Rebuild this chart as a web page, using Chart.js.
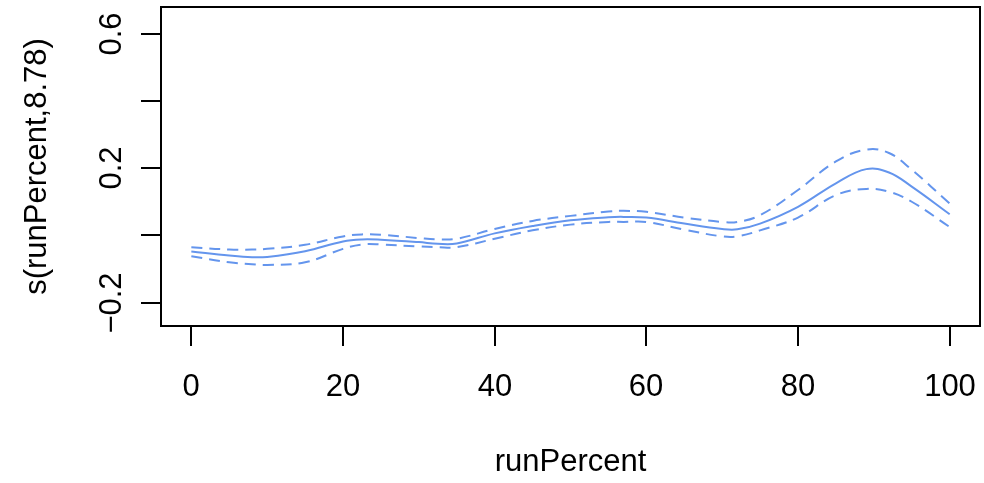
<!DOCTYPE html>
<html>
<head>
<meta charset="utf-8">
<title>s(runPercent,8.78)</title>
<script src="https://cdn.jsdelivr.net/npm/chart.js@4/dist/chart.umd.min.js"></script>
<style>
    body { margin: 0; background: #ffffff; }
    #wrap { width: 984px; height: 483px; }
</style>
</head>
<body>
<div id="wrap"><canvas id="smoothChart" width="984" height="483"></canvas></div>
<script>
// values
const runPercent = [0, 5, 8, 10, 15, 20, 22.5, 25, 30, 32.5, 35, 40, 45, 50, 55, 57, 60, 65, 70, 72, 75, 80, 85, 89, 92, 95, 100];
const fitValues = [-0.048, -0.060, -0.065, -0.064, -0.047, -0.018, -0.012, -0.013, -0.020, -0.025, -0.024, 0.006, 0.028, 0.045, 0.054, 0.055, 0.053, 0.035, 0.019, 0.018, 0.035, 0.085, 0.155, 0.197, 0.187, 0.145, 0.063];
const upperBand = [-0.035, -0.042, -0.042, -0.040, -0.028, -0.003, 0.003, 0.002, -0.008, -0.012, -0.010, 0.019, 0.043, 0.058, 0.071, 0.073, 0.070, 0.053, 0.040, 0.040, 0.060, 0.135, 0.220, 0.255, 0.245, 0.195, 0.095];
const lowerBand = [-0.062, -0.080, -0.086, -0.088, -0.080, -0.040, -0.027, -0.027, -0.033, -0.035, -0.035, -0.010, 0.015, 0.032, 0.040, 0.040, 0.040, 0.017, -0.003, -0.003, 0.015, 0.053, 0.120, 0.138, 0.130, 0.100, 0.025];

const xTicks = [0, 20, 40, 60, 80, 100];
const yTicks = [-0.2, 0, 0.2, 0.4, 0.6];
const yTickLabels = ['\u22120.2', '', '0.2', '', '0.6'];
const xTitle = 'runPercent';
const yTitle = 's(runPercent,8.78)';

const lineColor = '#6495ED';
const fontName = '"Liberation Sans", Arial, sans-serif';

function toPoints(values) {
    return runPercent.map((x, i) => ({ x: x, y: values[i] }));
}

// R style box, ticks and labels
const baseAxes = {
    id: 'baseAxes',
    afterDraw(chart) {
        const ctx = chart.ctx;
        const area = chart.chartArea;
        const xs = chart.scales.x;
        const ys = chart.scales.y;
        const tickLen = 20;

        ctx.save();
        ctx.strokeStyle = '#000000';
        ctx.lineWidth = 2;
        ctx.strokeRect(area.left, area.top, area.right - area.left, area.bottom - area.top);

        ctx.fillStyle = '#000000';
        ctx.font = '31px ' + fontName;
        ctx.textAlign = 'center';
        ctx.textBaseline = 'middle';

        xTicks.forEach(v => {
            const px = Math.round(xs.getPixelForValue(v));
            ctx.beginPath();
            ctx.moveTo(px, area.bottom);
            ctx.lineTo(px, area.bottom + tickLen);
            ctx.stroke();
            ctx.fillText(String(v), px, 387);
        });

        yTicks.forEach((v, i) => {
            const py = Math.round(ys.getPixelForValue(v));
            ctx.beginPath();
            ctx.moveTo(area.left, py);
            ctx.lineTo(area.left - tickLen, py);
            ctx.stroke();
            if (yTickLabels[i]) {
                ctx.save();
                ctx.translate(112, py);
                ctx.rotate(-Math.PI / 2);
                ctx.fillText(yTickLabels[i], 0, 0);
                ctx.restore();
            }
        });

        ctx.fillText(xTitle, (xs.getPixelForValue(0) + xs.getPixelForValue(100)) / 2, 462);
        ctx.save();
        ctx.translate(37, (area.top + area.bottom) / 2);
        ctx.rotate(-Math.PI / 2);
        ctx.fillText(yTitle, 0, 0);
        ctx.restore();
        ctx.restore();
    }
};

const ctx = document.getElementById('smoothChart').getContext('2d');
new Chart(ctx, {
    type: 'line',
    data: {
        datasets: [
            {
                label: 'fit',
                data: toPoints(fitValues),
                borderColor: lineColor,
                borderWidth: 2,
                pointRadius: 0,
                tension: 0.4,
                fill: false
            },
            {
                label: 'upper',
                data: toPoints(upperBand),
                borderColor: lineColor,
                borderWidth: 2,
                borderDash: [11, 7],
                pointRadius: 0,
                tension: 0.4,
                fill: false
            },
            {
                label: 'lower',
                data: toPoints(lowerBand),
                borderColor: lineColor,
                borderWidth: 2,
                borderDash: [11, 7],
                pointRadius: 0,
                tension: 0.4,
                fill: false
            }
        ]
    },
    options: {
        responsive: false,
        animation: false,
        layout: { padding: { left: 161, top: 7, right: 4, bottom: 157 } },
        plugins: {
            legend: { display: false },
            tooltip: { enabled: false }
        },
        scales: {
            x: { type: 'linear', min: -4, max: 104, display: false },
            y: { type: 'linear', min: -0.2694, max: 0.679, display: false }
        }
    },
    plugins: [baseAxes]
});
</script>
</body>
</html>
